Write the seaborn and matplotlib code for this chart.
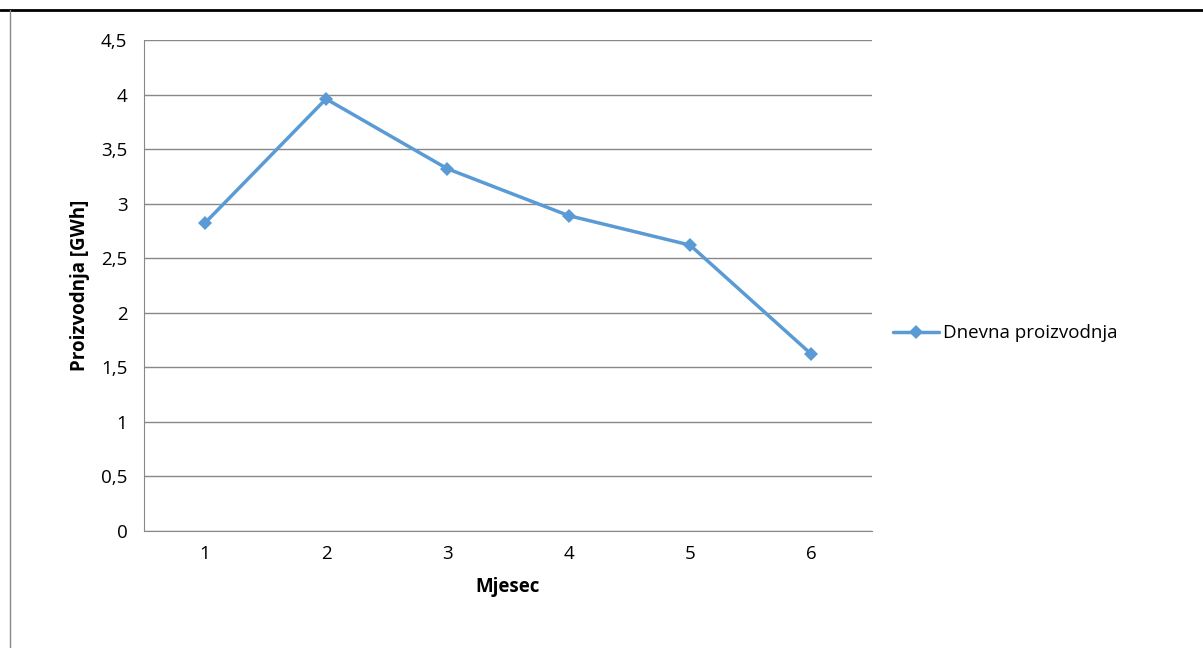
import matplotlib
matplotlib.use('Agg')
import matplotlib.pyplot as plt
import seaborn as sns
import pandas as pd

months = [1, 2, 3, 4, 5, 6]
production = [2.82, 3.96, 3.32, 2.89, 2.62, 1.62]
y_ticks = [0, 0.5, 1, 1.5, 2, 2.5, 3, 3.5, 4, 4.5]
y_labels = [str(v).replace('.', ',') for v in y_ticks]

sns.set_style('white')
plt.rcParams['font.family'] = ['Open Sans', 'DejaVu Sans']
plt.rcParams['text.color'] = 'black'
plt.rcParams['axes.labelcolor'] = 'black'
plt.rcParams['xtick.labelcolor'] = 'black'
plt.rcParams['ytick.labelcolor'] = 'black'

df = pd.DataFrame({'Mjesec': months, 'Dnevna proizvodnja': production})

fig = plt.figure(figsize=(12.03, 6.48), dpi=100)
ax = fig.add_axes([0.1197, 0.1806, 0.6052, 0.7577])
sns.lineplot(data=df, x='Mjesec', y='Dnevna proizvodnja', ax=ax, color='#5B9BD5',
             marker='D', markersize=7, linewidth=2.5, markeredgewidth=0,
             label='Dnevna proizvodnja')

ax.set_xlim(0.5, 6.5)
ax.set_ylim(0, 4.5)
ax.set_yticks(y_ticks)
ax.set_yticklabels(y_labels, fontsize=13.5)
ax.set_xticks(months)
ax.set_xticklabels([str(m) for m in months], fontsize=13.5)
ax.set_xticks([0.5 + i for i in range(7)], minor=True)
ax.tick_params(axis='x', which='major', length=0, pad=10)
ax.tick_params(axis='x', which='minor', length=6, color='#888888', direction='out')
ax.tick_params(axis='y', length=6, color='#888888', direction='out', pad=6)
ax.yaxis.grid(True, color='#888888', linewidth=1)
for s in ['top', 'right']:
    ax.spines[s].set_visible(False)
for s in ['left', 'bottom']:
    ax.spines[s].set_color('#888888')
ax.set_xlabel('Mjesec', fontsize=13.5, fontweight='bold', labelpad=10)
ax.set_ylabel('Proizvodnja [GWh]', fontsize=13.5, fontweight='bold', labelpad=8)
ax.legend(loc='center left', bbox_to_anchor=(1.005, 0.403), frameon=False, fontsize=13.5,
          handlelength=2.5, handletextpad=0.2)

# page frame lines
fig.add_artist(plt.Line2D([0, 1], [1 - 10 / 648, 1 - 10 / 648], color='black', linewidth=2))
fig.add_artist(plt.Line2D([10 / 1203, 10 / 1203], [0, 1 - 10 / 648], color='#888888', linewidth=1))

fig.savefig('out.png', dpi=100)
